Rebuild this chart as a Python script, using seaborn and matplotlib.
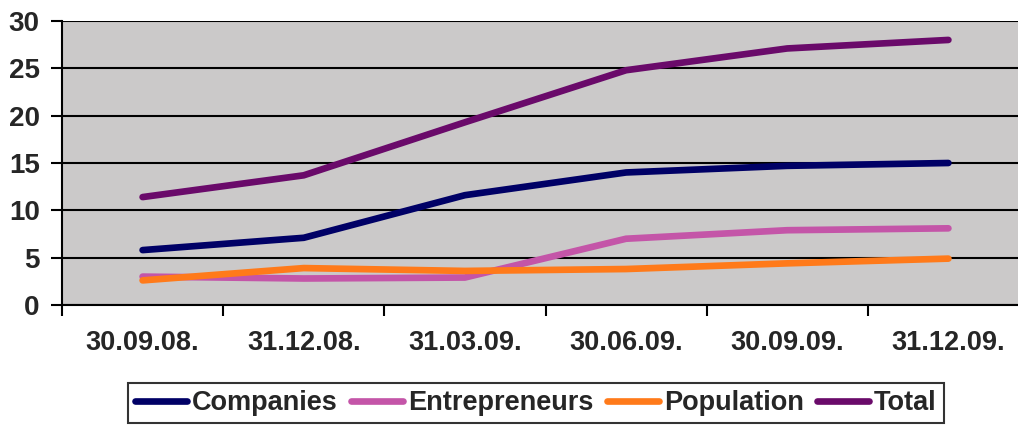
import matplotlib
matplotlib.use("Agg")
import matplotlib.pyplot as plt
import seaborn as sns
import pandas as pd
import numpy as np

dates = ["30.09.08.", "31.12.08.", "31.03.09.", "30.06.09.", "30.09.09.", "31.12.09."]
companies = [5.8, 7.1, 11.6, 14.0, 14.7, 15.0]
entrepreneurs = [3.0, 2.8, 2.9, 7.0, 7.9, 8.1]
population = [2.6, 3.9, 3.6, 3.8, 4.4, 4.9]
total = [11.4, 13.7, 19.3, 24.8, 27.1, 28.0]
series_names = ["Companies", "Entrepreneurs", "Population", "Total"]
colors = ["#000066", "#C455A8", "#FF7A1A", "#6A0A6A"]

rows = []
for name, vals in zip(series_names, [companies, entrepreneurs, population, total]):
    for i, v in enumerate(vals):
        rows.append({"pos": i, "value": v, "series": name})
df = pd.DataFrame(rows)

sns.set_style("ticks")
plt.rcParams["font.family"] = ["Liberation Sans", "DejaVu Sans"]
plt.rcParams["font.weight"] = "bold"

fig = plt.figure(figsize=(10.18, 4.25), dpi=100)
ax = fig.add_axes([62/1018, 120/425, (1029-62)/1018, 284/425])
ax.set_facecolor("#CBC9C9")

sns.lineplot(data=df, x="pos", y="value", hue="series", hue_order=series_names,
             palette=colors, linewidth=4.8, ax=ax, legend=True,
             solid_capstyle="round", sort=False)

ax.set_xlim(-0.5, 5.5)
ax.set_ylim(0, 30)
ax.set_yticks(range(0, 31, 5))
ax.yaxis.grid(True, color="black", linewidth=1.5)
ax.set_axisbelow(True)
ax.set_xticks(range(len(dates)))
ax.set_xticklabels(dates)
ax.set_xticks(np.arange(-0.5, 5.6, 1), minor=True)
ax.tick_params(axis="x", which="major", length=0, pad=18, labelsize=19.5, bottom=True)
ax.tick_params(axis="x", which="minor", length=8, width=1.5, color="black",
               direction="out", bottom=True)
ax.tick_params(axis="y", which="major", length=8, width=1.5, color="black", pad=8,
               labelsize=20, left=True, direction="out")
for lbl in ax.get_xticklabels() + ax.get_yticklabels():
    lbl.set_fontweight("bold")
ax.set_xlabel("")
ax.set_ylabel("")
for s in ["top", "right"]:
    ax.spines[s].set_visible(False)
for s in ["left", "bottom"]:
    ax.spines[s].set_color("black")
    ax.spines[s].set_linewidth(1.5)

handles, labels = ax.get_legend_handles_labels()
for h in handles:
    h.set_linewidth(4.8)
    h.set_solid_capstyle("round")
ax.legend_.remove()
leg = fig.legend(handles, labels, loc="center", bbox_to_anchor=(536/1018, 1 - 403/425),
                 ncol=4, frameon=True, fancybox=False, handlelength=1.9,
                 handletextpad=0.2, columnspacing=0.5, borderpad=0.25,
                 prop={"size": 19.5, "weight": "bold"})
leg.get_frame().set_edgecolor("black")
leg.get_frame().set_linewidth(1.5)

fig.savefig("out.png", dpi=100)
